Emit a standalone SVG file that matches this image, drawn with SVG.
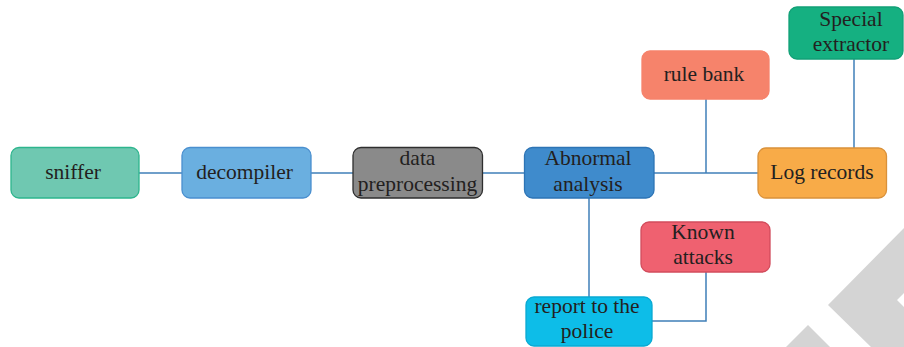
<svg xmlns="http://www.w3.org/2000/svg" width="904" height="347" viewBox="0 0 904 347">
<style>
.n{stroke-width:1.3}
.t{font-family:"Liberation Serif","Times New Roman",serif;font-size:21.5px;fill:#231f20;text-anchor:middle}
.c{fill:none;stroke:#3f7fb8;stroke-width:1.5}
</style>
<rect width="904" height="347" fill="#ffffff"/>
<g id="watermark" fill="#d4d4d4">
<polygon points="828,305 904,228 904,293 897,300 904,307 904,347 871,347"/>
<polygon points="786,347 808,325 830,347"/>
</g>
<g id="connectors" class="c">
<line x1="139" y1="173" x2="758" y2="173"/>
<line x1="706" y1="99" x2="706" y2="173"/>
<line x1="854" y1="59" x2="854" y2="148"/>
<line x1="589" y1="198" x2="589" y2="297"/>
<polyline points="706,272 706,321 652,321"/>
</g>
<g id="sniffer"><rect class="n" x="11" y="147.5" width="128" height="50.5" rx="8" fill="#6fc8b1" stroke="#2db58d"/><text class="t" x="73" y="179">sniffer</text></g>
<g id="decompiler"><rect class="n" x="182" y="147.5" width="129" height="50.5" rx="8" fill="#6aafe0" stroke="#4a8fcf"/><text class="t" x="244.5" y="179">decompiler</text></g>
<g id="preprocessing"><rect class="n" x="353" y="147.5" width="129.5" height="50.5" rx="8" fill="#8a8a8a" stroke="#2e2e2e"/><text class="t" x="417.5" y="165">data</text><text class="t" x="417.5" y="191">preprocessing</text></g>
<g id="abnormal"><rect class="n" x="524.5" y="147.5" width="129.5" height="50.5" rx="8" fill="#3f8bcc" stroke="#2d74b5"/><text class="t" x="588" y="165">Abnormal</text><text class="t" x="588" y="191">analysis</text></g>
<g id="rulebank"><rect class="n" x="642" y="51" width="127" height="48" rx="8" fill="#f6836b" stroke="#f6836b"/><text class="t" x="704" y="81">rule bank</text></g>
<g id="special"><rect class="n" x="789" y="7" width="114" height="52" rx="8" fill="#15b081" stroke="#12a077"/><text class="t" x="851" y="26">Special</text><text class="t" x="851" y="51">extractor</text></g>
<g id="log"><rect class="n" x="758" y="148" width="128.5" height="50" rx="8" fill="#f8ab48" stroke="#d9913a"/><text class="t" x="822" y="179">Log records</text></g>
<g id="known"><rect class="n" x="641" y="222" width="129" height="50" rx="8" fill="#ef6170" stroke="#d24c5c"/><text class="t" x="703" y="239">Known</text><text class="t" x="703" y="264">attacks</text></g>
<g id="report"><rect class="n" x="526" y="297" width="126" height="49" rx="8" fill="#0dbde8" stroke="#0aa9d2"/><text class="t" x="587" y="313">report to the</text><text class="t" x="587" y="338">police</text></g>
</svg>
